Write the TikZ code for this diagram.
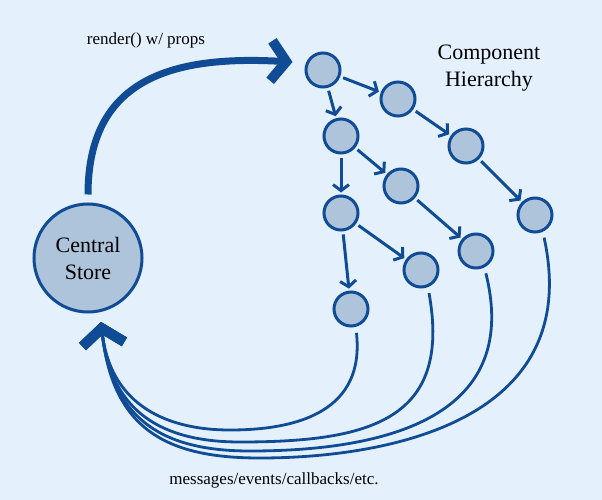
\documentclass[tikz,border=0pt]{standalone}
\usepackage{fontspec}
\setmainfont{Liberation Serif}
\usetikzlibrary{positioning,arrows.meta}

\definecolor{bgblue}{RGB}{228,241,253}
\definecolor{lineblue}{RGB}{16,76,150}
\definecolor{nodefill}{RGB}{174,196,219}

\tikzset{
  comp/.style={circle, draw=lineblue, fill=nodefill, line width=3pt, minimum size=34pt, inner sep=0pt},
  hub/.style={comp, minimum size=108pt, align=center, font=\rmfamily\fontsize{22}{27}\selectfont},
  child/.style={draw=lineblue, line width=3pt, -{Straight Barb[length=6pt,width=16pt,line width=3pt]}, shorten <=3pt, shorten >=2pt},
  flow/.style={draw=lineblue, line width=7pt, -{Straight Barb[length=15pt,width=40pt,line width=10pt]}},
  reply/.style={draw=lineblue, line width=2.8pt, -{Straight Barb[length=16pt,width=42pt,line width=10pt]}, shorten <=6pt},
  lbl/.style={font=\rmfamily\fontsize{17}{20}\selectfont}
}

\begin{document}
\begin{tikzpicture}[x=1pt, y=-1pt, on grid]
  \fill[bgblue] (0,0) rectangle (602,500);
  % Define nodes
  \node[hub]  (store) at (88,258) {Central\\Store};
  \node[comp] (a) at (323,70) {};
  \node[comp, below right=29pt and 75pt of a] (b) {};
  \node[comp, below right=66pt and 18pt of a] (c) {};
  \node[comp, below right=47pt and 68pt of b] (d) {};
  \node[comp, below right=50pt and 60pt of c] (e) {};
  \node[comp, below=77pt of c] (f) {};
  \node[comp, below right=69pt and 69pt of d] (g) {};
  \node[comp, below right=65pt and 75pt of e] (h) {};
  \node[comp, below right=57pt and 80pt of f] (i) {};
  \node[comp, below right=96pt and 10pt of f] (j) {};
  \coordinate (entry) at (101,322);
  % Labels
  \node[lbl] (render) at (146,40) {render() w/ props};
  \node[lbl, align=center, font=\rmfamily\fontsize{22}{27}\selectfont] (title) at (489,68) {Component\\Hierarchy};
  \node[lbl] (msgs) at (274,480) {messages/events/callbacks/etc.};
  % Connect nodes
  \draw[child] (a) -- (b);
  \draw[child] (a) -- (c);
  \draw[child] (b) -- (d);
  \draw[child] (c) -- (e);
  \draw[child] (c) -- (f);
  \draw[child] (d) -- (g);
  \draw[child] (e) -- (h);
  \draw[child] (f) -- (i);
  \draw[child] (f) -- (j);
  \draw[flow, shorten <=8pt] (store.north) .. controls (88,80) and (170,55) .. ([xshift=-12pt,yshift=8pt]a.west);
  \draw[reply] (j.-75) .. controls (365,410) and (300,430) .. (230,430) .. controls (160,430) and (110,400) .. (entry);
  \draw[reply] (i.-68) .. controls (452,420) and (370,442) .. (240,442) .. controls (162,442) and (111,412) .. (entry);
  \draw[reply] (h.-63) .. controls (520,410) and (400,451) .. (250,451) .. controls (166,451) and (112,422) .. (entry);
  \draw[reply] (g.-65) .. controls (585,425) and (380,458) .. (260,458) .. controls (170,458) and (113,432) .. (entry);
\end{tikzpicture}
\end{document}
